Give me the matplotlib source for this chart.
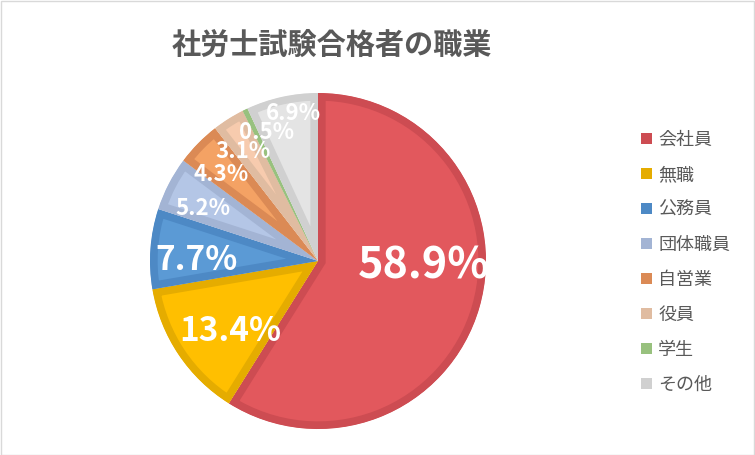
import matplotlib
matplotlib.use("Agg")
import matplotlib.pyplot as plt
from matplotlib.patches import Patch, Rectangle

plt.rcParams['font.family'] = ['Noto Sans CJK JP', 'DejaVu Sans']

# data
jobs = ["会社員", "無職", "公務員", "団体職員", "自営業", "役員", "学生", "その他"]
shares = [58.9, 13.4, 7.7, 5.2, 4.3, 3.1, 0.5, 6.9]
pct_labels = ["58.9%", "13.4%", "7.7%", "5.2%", "4.3%", "3.1%", "0.5%", "6.9%"]

# styles
fill_colors = ["#E2585D", "#FFBF00", "#5B9AD5", "#B4C6E6", "#F4A264",
               "#F7CBAE", "#A8D08D", "#E4E4E4"]
edge_colors = ["#CD4C52", "#E5AC00", "#4D89C5", "#A3B4D4", "#DB8A55",
               "#E0BCA1", "#98C17E", "#D0D0D0"]
label_sizes = [31, 24, 24, 16, 16, 16, 16, 16]
# label position relative to pie centre, in units of radius
label_pos = [(0.628, -0.024), (-0.524, -0.417), (-0.72, 0.0), (-0.685, 0.315),
             (-0.577, 0.512), (-0.446, 0.649), (-0.304, 0.762), (-0.149, 0.875)]

W, H = 755, 455
cx, cy, R = 318, H - 261, 168

fig = plt.figure(figsize=(W / 100, H / 100), dpi=100)
ax = fig.add_axes([0, 0, 1, 1])

wedges, _ = ax.pie(shares, colors=fill_colors, startangle=90, counterclock=False,
                   center=(cx, cy), radius=R)
for w, ec in zip(wedges, edge_colors):
    # border drawn only on the inside of each slice
    w.set_edgecolor(ec)
    w.set_linewidth(11)
    w.set_joinstyle('miter')
    w.set_clip_path(w)
    w.set_clip_on(True)

for txt, (dx, dy), fs in zip(pct_labels, label_pos, label_sizes):
    ax.text(cx + dx * R, cy + dy * R, txt, ha='center', va='center',
            color='white', fontsize=fs, fontweight='bold')

ax.set_xlim(0, W)
ax.set_ylim(0, H)
ax.set_aspect('auto')
ax.axis('off')

# outer chart border
fig.patches.append(Rectangle((0.5 / W, 0.5 / H), 1 - 1.5 / W, 1 - 1.5 / H,
                             transform=fig.transFigure, fill=False,
                             edgecolor='#D9D9D9', linewidth=1))

fig.text(332 / W, 1 - 45 / H, "社労士試験合格者の職業", ha='center', va='center',
         fontsize=21, fontweight='bold', color='#595959')

handles = [Patch(facecolor=c, edgecolor='none') for c in edge_colors]
fig.legend(handles, jobs, loc='upper left', bbox_to_anchor=(641 / W, 1 - 131 / H),
           frameon=False, prop={'size': 13},
           handlelength=0.6, handleheight=0.6,
           handletextpad=0.35, labelspacing=0.94, borderpad=0, borderaxespad=0,
           labelcolor='#595959')

fig.savefig("out.png", dpi=100)
